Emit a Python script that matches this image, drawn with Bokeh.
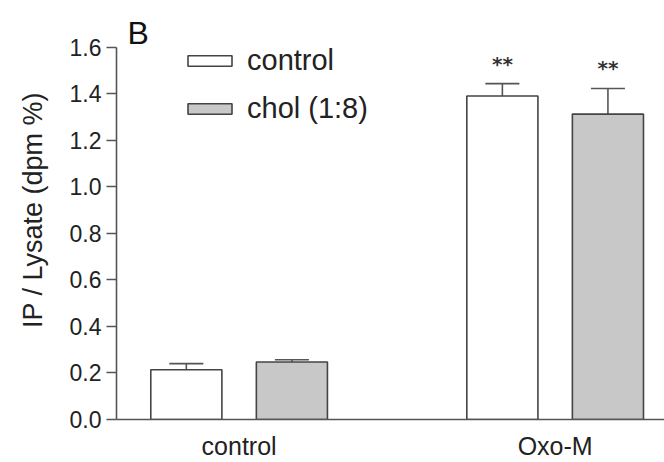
from bokeh.plotting import figure
from bokeh.models import (Range1d, FixedTicker, NumeralTickFormatter, Whisker, TeeHead,
                          ColumnDataSource, Label, Legend)
from bokeh.core.properties import value
from bokeh.embed import file_html
from bokeh.resources import INLINE

# ---- data ----
groups = ["control", "Oxo-M"]
control_vals = [0.214, 1.390]
control_err = [0.026, 0.053]
chol_vals = [0.247, 1.312]
chol_err = [0.010, 0.110]
control_sig = ["", "**"]
chol_sig = ["", "**"]
y_ticks = [0.0, 0.2, 0.4, 0.6, 0.8, 1.0, 1.2, 1.4, 1.6]
series_names = ["control", "chol (1:8)"]

FONT = "Liberation Sans"
W, H = 664, 462
FL, FB = 116, 42  # frame borders
group_pos = list(range(len(groups)))
offset = 0.167
bar_w = 0.225
x0, x1 = -0.388, 1.346
y0, y1 = 0.0, 1.80

p = figure(width=W, height=H, output_backend="svg", toolbar_location=None,
           x_range=Range1d(x0, x1), y_range=Range1d(y0, y1),
           min_border_left=FL, min_border_right=0, min_border_top=0, min_border_bottom=FB)
p.outline_line_color = None
p.grid.visible = False
p.background_fill_color = "white"

def make_src(vals, errs, sig, sign):
    xs = [g + sign * offset for g in group_pos]
    return ColumnDataSource(dict(x=xs, top=vals, upper=[v + e for v, e in zip(vals, errs)],
                                 lower=vals, sig=sig))

src_c = make_src(control_vals, control_err, control_sig, -1)
src_h = make_src(chol_vals, chol_err, chol_sig, +1)

r1 = p.vbar(x="x", top="top", width=bar_w, source=src_c, fill_color="white",
            line_color="#444444", line_width=1.6)
r2 = p.vbar(x="x", top="top", width=bar_w, source=src_h, fill_color="#c8c8c8",
            line_color="#444444", line_width=1.6)

for src in (src_c, src_h):
    w = Whisker(base="x", lower="lower", upper="upper", source=src,
                line_color="#555555", line_width=1.6,
                upper_head=TeeHead(size=34, line_color="#555555", line_width=1.6),
                lower_head=None)
    p.add_layout(w)
    p.text(x="x", y="upper", text="sig", source=src, text_align="center",
           text_baseline="alphabetic", y_offset=-20, text_font=value("DejaVu Sans"),
           text_font_size="20px", text_font_style="bold", text_color="#333333")

legend = Legend(items=[(series_names[0], [r1]), (series_names[1], [r2])],
                location=(66, 294), orientation="vertical",
                glyph_width=55, glyph_height=13, label_height=30, spacing=15,
                label_standoff=10, padding=0, margin=0,
                border_line_color=None, background_fill_alpha=0,
                label_text_font=FONT, label_text_font_size="29px",
                label_text_color="#222222")
p.add_layout(legend)

# panel letter
px_per_x = (W - FL) / (x1 - x0)
px_per_y = (H - FB) / (y1 - y0)
p.add_layout(Label(x=x0 + 11 / px_per_x, y=y1 - 15 / px_per_y, text="B",
                   text_font=FONT, text_font_size="32px", text_color="#111111",
                   text_baseline="top", text_align="left"))

# axes
xa = p.xaxis[0]
xa.ticker = FixedTicker(ticks=group_pos)
xa.major_label_overrides = {i: g for i, g in enumerate(groups)}
xa.major_tick_out = 0
xa.major_tick_in = 0
xa.minor_tick_out = 0
xa.minor_tick_in = 0
xa.axis_line_color = "#555555"
xa.axis_line_width = 1.6
xa.major_label_text_font = FONT
xa.major_label_text_font_size = "25px"
xa.major_label_text_color = "#222222"
xa.major_label_standoff = 12

ya = p.yaxis[0]
ya.ticker = FixedTicker(ticks=y_ticks)
ya.formatter = NumeralTickFormatter(format="0.0")
ya.bounds = (0, 1.6)
ya.major_tick_out = 10
ya.major_tick_in = 0
ya.minor_tick_out = 0
ya.minor_tick_in = 0
ya.axis_line_color = "#555555"
ya.axis_line_width = 1.6
ya.major_tick_line_color = "#555555"
ya.major_tick_line_width = 1.6
ya.major_label_text_font = FONT
ya.major_label_text_font_size = "23px"
ya.major_label_text_color = "#222222"
ya.major_label_standoff = 5
ya.axis_label = "IP / Lysate (dpm %)"
ya.axis_label_text_font = FONT
ya.axis_label_text_font_size = "27px"
ya.axis_label_text_font_style = "normal"
ya.axis_label_text_color = "#222222"
ya.axis_label_standoff = 19

open("out.html", "w").write(file_html(p, INLINE))
